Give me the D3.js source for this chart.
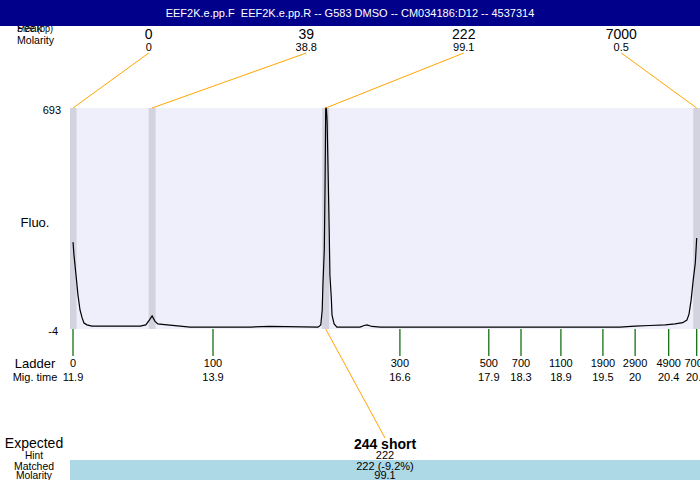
<!DOCTYPE html>
<html>
<head>
<meta charset="utf-8">
<script src="https://cdn.jsdelivr.net/npm/d3@7"></script>
<style>
  body { margin: 0; background: #fff; }
  svg { display: block; font-family: "Liberation Sans", Arial, sans-serif; }
</style>
</head>
<body>
<script>
const W = 700, H = 480;
const plot = { left: 70, right: 700, top: 108, bottom: 329 };

// Title
const title = "EEF2K.e.pp.F  EEF2K.e.pp.R -- G583 DMSO -- CM034186:D12 -- 4537314";

// Peaks called on the trace
const peakSizes = ["0", "39", "222", "7000"];
const peakMolarity = ["0", "38.8", "99.1", "0.5"];
const peakTimes = [11.9, 13.03, 15.51, 20.81];

// Ladder
const ladderSizes = ["0", "100", "300", "500", "700", "1100", "1900", "2900", "4900", "7000"];
const ladderTimes = [11.9, 13.9, 16.57, 17.84, 18.3, 18.87, 19.47, 19.93, 20.41, 20.81];
const ladderTimeLabels = ["11.9", "13.9", "16.6", "17.9", "18.3", "18.9", "19.5", "20", "20.4", "20.8"];

// Electropherogram trace (migration time, fluorescence)
const traceTime = [11.9, 11.914, 11.943, 11.971, 12.0, 12.03, 12.057, 12.1, 12.17, 12.43, 12.86,
  12.94, 12.99, 13.03, 13.07, 13.11, 13.21, 13.43, 13.57, 14.43, 14.71, 15.4, 15.44,
  15.46, 15.47, 15.49, 15.5, 15.51, 15.52, 15.53, 15.54, 15.56, 15.57, 15.59, 15.6, 15.63, 15.67,
  16.0, 16.06, 16.1, 16.17, 16.29, 18.0, 19.71, 19.93, 20.14, 20.36, 20.5, 20.61,
  20.67, 20.7, 20.73, 20.76, 20.79, 20.81];
const traceFluo = [270, 229, 166, 103, 56, 31, 15, 9, 5, 5, 5,
  9, 24, 37, 21, 12, 10, 5, 2, 2, 4, 2, 9,
  56, 135, 245, 434, 693, 693, 650, 540, 308, 166, 94, 40, 12, 2,
  2, 7, 9, 4, 2, 2, 2, 5, 7, 9, 12, 16,
  24, 43, 87, 150, 204, 283];

// Expected
const expectedLabel = "244 short";
const hint = "222";
const matched = "222 (-9.2%)";
const matchedMolarity = "99.1";

const yDomain = [-4, 693];

const svg = d3.select("body").append("svg").attr("width", W).attr("height", H);

const x = d3.scaleLinear().domain([11.857, 20.857]).range([plot.left, plot.right]);
const y = d3.scaleLinear().domain(yDomain).range([plot.bottom, plot.top]);

// top-left labels (partly under header)
svg.append("text").attr("x", 17).attr("y", 32).attr("font-size", 11)
  .attr("textLength", 36).attr("lengthAdjust", "spacingAndGlyphs").text("Size (bp)");
svg.append("text").attr("x", 17).attr("y", 32).attr("font-size", 11).text("Peak");
svg.append("text").attr("x", 17).attr("y", 44).attr("font-size", 11)
  .attr("textLength", 37).attr("lengthAdjust", "spacingAndGlyphs").text("Molarity");

// header
svg.append("rect").attr("width", W).attr("height", 26).attr("fill", "#00008b");
svg.append("text").attr("x", 350).attr("y", 17).attr("text-anchor", "middle")
  .attr("fill", "#fff").attr("font-size", 11).style("white-space", "pre").text(title);

// plot background
svg.append("rect").attr("x", plot.left).attr("y", plot.top)
  .attr("width", plot.right - plot.left).attr("height", plot.bottom - plot.top)
  .attr("fill", "#efeffc");

// peak bands
svg.append("g").selectAll("rect").data(peakTimes).join("rect")
  .attr("x", (d) => Math.max(plot.left, x(d) - 3.5))
  .attr("width", (d) => Math.min(plot.right, x(d) + 3.5) - Math.max(plot.left, x(d) - 3.5))
  .attr("y", plot.top).attr("height", plot.bottom - plot.top)
  .attr("fill", "#d3d3df");

// trace
const trace = traceTime.map((t, i) => [t, traceFluo[i]]);
svg.append("path").datum(trace)
  .attr("fill", "none").attr("stroke", "#000").attr("stroke-width", 1.2)
  .attr("d", d3.line().x((d) => x(d[0])).y((d) => y(d[1])));

// peak labels + connectors
const slot = (plot.right - plot.left) / peakSizes.length;
const labelX = (i) => plot.left + slot * (i + 0.5);
const pk = svg.append("g");
pk.selectAll("line").data(peakTimes).join("line")
  .attr("x1", (d, i) => labelX(i)).attr("y1", 53)
  .attr("x2", (d) => x(d)).attr("y2", plot.top)
  .attr("stroke", "orange").attr("stroke-width", 1);
pk.selectAll("text.size").data(peakSizes).join("text").attr("class", "size")
  .attr("x", (d, i) => labelX(i)).attr("y", 39).attr("text-anchor", "middle")
  .attr("font-size", 14).text((d) => d);
pk.selectAll("text.mol").data(peakMolarity).join("text").attr("class", "mol")
  .attr("x", (d, i) => labelX(i)).attr("y", 51).attr("text-anchor", "middle")
  .attr("font-size", 11).text((d) => d);

// y labels
svg.append("text").attr("x", 61).attr("y", y(yDomain[1]) + 6).attr("text-anchor", "end")
  .attr("font-size", 11).text(yDomain[1]);
svg.append("text").attr("x", 58).attr("y", y(yDomain[0]) + 6).attr("text-anchor", "end")
  .attr("font-size", 11).text(yDomain[0]);
svg.append("text").attr("x", 35).attr("y", 227).attr("text-anchor", "middle")
  .attr("font-size", 13).text("Fluo.");

// ladder
const lad = svg.append("g");
lad.selectAll("line").data(ladderTimes).join("line")
  .attr("x1", (d) => x(d)).attr("x2", (d) => x(d))
  .attr("y1", plot.bottom).attr("y2", 356)
  .attr("stroke", "#006400").attr("stroke-width", 1.2);
lad.selectAll("text.size").data(ladderSizes).join("text").attr("class", "size")
  .attr("x", (d, i) => x(ladderTimes[i])).attr("y", 367).attr("text-anchor", "middle")
  .attr("font-size", 11).text((d) => d);
lad.selectAll("text.time").data(ladderTimeLabels).join("text").attr("class", "time")
  .attr("x", (d, i) => x(ladderTimes[i])).attr("y", 381).attr("text-anchor", "middle")
  .attr("font-size", 11).text((d) => d);
svg.append("text").attr("x", 35).attr("y", 368).attr("text-anchor", "middle")
  .attr("font-size", 13).text("Ladder");
svg.append("text").attr("x", 35).attr("y", 381).attr("text-anchor", "middle")
  .attr("font-size", 11).text("Mig. time");

// expected section
const ex = 385;
svg.append("line").attr("x1", x(peakTimes[2])).attr("y1", plot.bottom)
  .attr("x2", ex).attr("y2", 438).attr("stroke", "orange").attr("stroke-width", 1);
svg.append("rect").attr("x", plot.left).attr("y", 460)
  .attr("width", plot.right - plot.left).attr("height", 20).attr("fill", "#add8e6");
svg.append("text").attr("x", ex).attr("y", 449).attr("text-anchor", "middle")
  .attr("font-size", 14).attr("font-weight", "bold").text(expectedLabel);
svg.append("text").attr("x", ex).attr("y", 459).attr("text-anchor", "middle")
  .attr("font-size", 11).text(hint);
svg.append("text").attr("x", ex).attr("y", 469.5).attr("text-anchor", "middle")
  .attr("font-size", 11).text(matched);
svg.append("text").attr("x", ex).attr("y", 479).attr("text-anchor", "middle")
  .attr("font-size", 11).text(matchedMolarity);

svg.append("text").attr("x", 34).attr("y", 448).attr("text-anchor", "middle")
  .attr("font-size", 14).text("Expected");
[["Hint", 459, 18], ["Matched", 469.5, 40], ["Molarity", 479, 36]].forEach(([t, yy, len]) => {
  svg.append("text").attr("x", 34).attr("y", yy).attr("text-anchor", "middle")
    .attr("font-size", 11).attr("textLength", len)
    .attr("lengthAdjust", "spacingAndGlyphs").text(t);
});
</script>
</body>
</html>
